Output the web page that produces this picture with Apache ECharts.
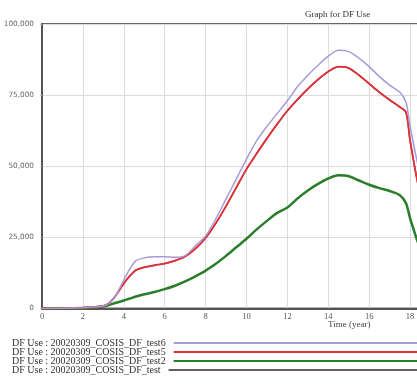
<!DOCTYPE html>
<html><head><meta charset="utf-8">
<script src="https://cdn.jsdelivr.net/npm/echarts@6/dist/echarts.min.js"></script>
<style>html,body{margin:0;padding:0;background:#fff;overflow:hidden;width:417px;height:388px}#c{width:460px;height:388px}</style>
</head><body><div id="c"></div>
<script>
const years = [0, 1, 2, 2.5, 3, 3.3, 3.6, 4, 4.3, 4.6, 5, 5.5, 6, 6.5, 7, 7.5, 8, 8.5, 9, 9.5, 10, 10.5, 11, 11.5, 12, 12.5, 13, 13.5, 14, 14.5, 15, 15.5, 16, 16.5, 17, 17.5, 17.8, 18, 18.5, 19, 19.5, 20];
const test6 = [0, 100, 300, 500, 900, 2000, 4500, 10000, 14000, 16800, 17800, 18200, 18200, 18000, 18600, 22000, 25500, 31500, 38500, 45500, 52500, 59000, 64000, 68500, 73000, 78000, 82000, 85500, 88700, 90800, 90300, 88000, 85000, 81500, 78500, 76000, 72500, 64000, 47000, 38000, 34000, 32000];
const test5 = [0, 100, 300, 500, 900, 2000, 4500, 8800, 11500, 13500, 14500, 15200, 15800, 16800, 18300, 21000, 24800, 30000, 36000, 42500, 49000, 54500, 59800, 64800, 69500, 73500, 77200, 80500, 83300, 85000, 84500, 82000, 79000, 76000, 73300, 70800, 69000, 59000, 40000, 30000, 26000, 24000];
const test2 = [0, 100, 200, 400, 700, 1300, 2000, 2800, 3500, 4200, 5000, 5800, 6800, 8000, 9500, 11300, 13300, 15700, 18500, 21500, 24500, 27800, 30800, 33600, 35500, 38700, 41500, 43800, 45700, 46800, 46500, 45000, 43500, 42300, 41300, 39800, 37000, 31700, 21000, 15000, 13000, 12000];
const test = [0, 100, 300, 500, 900, 2000, 4500, 8800, 11500, 13500, 14500, 15200, 15800, 16800, 18300, 21000, 24800, 30000, 36000, 42500, 49000, 54500, 59800, 64800, 69500, 73500, 77200, 80500, 83300, 85000, 84500, 82000, 79000, 76000, 73300, 70800, 69000, 59000, 40000, 30000, 26000, 24000];
const names = ['DF Use : 20020309_COSIS_DF_test6', 'DF Use : 20020309_COSIS_DF_test5', 'DF Use : 20020309_COSIS_DF_test2', 'DF Use : 20020309_COSIS_DF_test'];
const title = 'Graph for DF Use';
const xName = 'Time (year)';

const pair = arr => years.map((x, i) => [x, arr[i]]);
const chart = echarts.init(document.getElementById('c'), null, {renderer: 'canvas'});
const serif = 'Liberation Serif';
const legendTops = [338, 347, 356, 365];
chart.setOption({
  animation: false,
  backgroundColor: '#fff',
  title: {text: title, left: 300, top: 5, textStyle: {fontFamily: serif, fontSize: 9, fontWeight: 'normal', color: '#333'}},
  grid: {left: 42, top: 24, right: 9, bottom: 79.5, show: true, borderColor: '#666', borderWidth: 2, backgroundColor: 'transparent'},
  xAxis: {type: 'value', min: 0, max: 20, interval: 2,
    axisLine: {show: true, onZero: false, lineStyle: {color: '#555', width: 2}},
    axisTick: {show: false},
    axisLabel: {fontFamily: serif, fontSize: 8.5, color: '#555', margin: 4},
    splitLine: {show: true, lineStyle: {color: '#dcdcdc', width: 1}}},
  yAxis: {type: 'value', min: 0, max: 100000, interval: 25000,
    axisLine: {show: true, lineStyle: {color: '#555', width: 2}},
    axisTick: {show: true, length: 2, inside: false, lineStyle: {color: '#bbb'}},
    axisLabel: {fontFamily: 'DejaVu Sans', fontSize: 7.3, color: '#666', margin: 8,
      formatter: v => v.toLocaleString('en-US')},
    splitLine: {show: true, lineStyle: {color: '#dcdcdc', width: 1}}},
  graphic: [{type: 'text', left: 328, top: 320, style: {text: xName, font: '9px "Liberation Serif"', fill: '#444'}}],
  legend: names.map((n, i) => ({orient: 'vertical', left: 12, top: legendTops[i], padding: 0, align: 'right', icon: 'rect',
    itemWidth: 300, itemHeight: 2, itemGap: 0, data: [n], selectedMode: false,
    textStyle: {fontFamily: serif, fontSize: 10, color: '#333', padding: [0, 3, 0, 0]}})),
  series: [
    {name: names[3], type: 'line', data: pair(test), smooth: 0.3, showSymbol: false, z: 1, color: '#6b5a5a', lineStyle: {width: 1.5, color: '#6b5a5a'}},
    {name: names[2], type: 'line', data: pair(test2), smooth: 0.3, showSymbol: false, z: 2, color: '#2a7d2a', lineStyle: {width: 2.5, color: '#2a7d2a'}},
    {name: names[1], type: 'line', data: pair(test5), smooth: 0.3, showSymbol: false, z: 3, color: '#e33038', lineStyle: {width: 1.8, color: '#e33038'}},
    {name: names[0], type: 'line', data: pair(test6), smooth: 0.3, showSymbol: false, z: 4, color: '#a99ad6', lineStyle: {width: 1.5, color: '#a99ad6'}}
  ]
});
</script></body></html>
